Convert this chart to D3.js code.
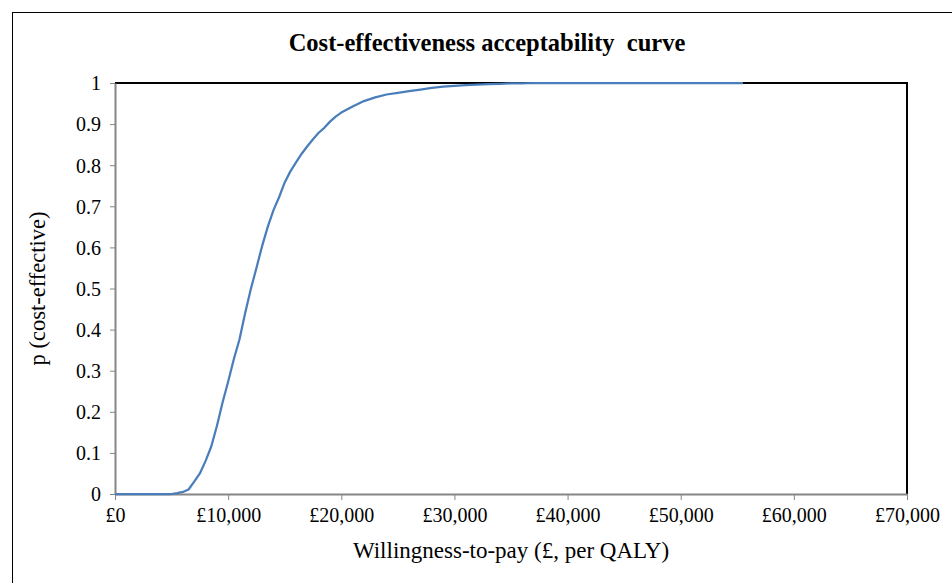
<!DOCTYPE html>
<html>
<head>
<meta charset="utf-8">
<script src="https://cdn.jsdelivr.net/npm/d3@7"></script>
<style>
  body { margin: 0; background: #fff; }
  svg { display: block; font-family: "Liberation Serif", "Times New Roman", serif; }
</style>
</head>
<body>
<div id="container"></div>
<script>
// willingness-to-pay thresholds (GBP per QALY)
const wtp = [0, 1000, 2000, 3000, 4000, 5000, 5500, 6000, 6500, 7000, 7500, 8000, 8500, 9000, 9500,
  10000, 10500, 11000, 11500, 12000, 12500, 13000, 13500, 14000, 14500, 15000, 15500, 16000, 16500,
  17000, 17500, 18000, 18500, 19000, 19500, 20000, 21000, 22000, 23000, 24000, 25000, 26000, 27000,
  28000, 29000, 30000, 31000, 32000, 33000, 34000, 35000, 36000, 37000, 40000, 45000, 50000, 55500];
// probability cost-effective
const pCE = [0, 0, 0, 0, 0, 0, 0.002, 0.005, 0.011, 0.03, 0.05, 0.08, 0.115, 0.165, 0.222,
  0.273, 0.328, 0.376, 0.44, 0.498, 0.55, 0.603, 0.65, 0.69, 0.722, 0.758, 0.785, 0.807, 0.828,
  0.846, 0.863, 0.879, 0.891, 0.906, 0.918, 0.928, 0.943, 0.956, 0.965, 0.972, 0.976, 0.98, 0.984,
  0.988, 0.991, 0.993, 0.995, 0.996, 0.997, 0.998, 0.999, 0.999, 1, 1, 1, 1, 1];

const xTicks = [0, 10000, 20000, 30000, 40000, 50000, 60000, 70000];
const yTicks = [0, 0.1, 0.2, 0.3, 0.4, 0.5, 0.6, 0.7, 0.8, 0.9, 1];

const title = "Cost-effectiveness acceptability\u00a0 curve";
const xTitle = "Willingness-to-pay (£, per QALY)";
const yTitle = "p (cost-effective)";

const W = 952, H = 583;
const pLeft = 115, pRight = 907, pTop = 83, pBottom = 494;

const svg = d3.select("#container").append("svg")
  .attr("width", W)
  .attr("height", H);

svg.append("rect").attr("width", W).attr("height", H).attr("fill", "#fff");

// outer chart border (cropped at right and bottom)
svg.append("rect")
  .attr("x", 12.5).attr("y", 12.5)
  .attr("width", W + 20).attr("height", H + 20)
  .attr("fill", "none").attr("stroke", "#000").attr("stroke-width", 1);

const x = d3.scaleLinear().domain([0, 70000]).range([pLeft, pRight]);
const y = d3.scaleLinear().domain([0, 1]).range([pBottom, pTop]);

// plot area border: black top and right
svg.append("path")
  .attr("d", `M${pLeft},${pTop}H${pRight}V${pBottom}`)
  .attr("fill", "none").attr("stroke", "#000").attr("stroke-width", 2);

const fmt = d => "£" + d3.format(",")(d);

const xAxis = svg.append("g")
  .attr("transform", `translate(0,${pBottom})`)
  .call(d3.axisBottom(x).tickValues(xTicks).tickFormat(fmt).tickSize(6).tickSizeOuter(0));

const yAxis = svg.append("g")
  .attr("transform", `translate(${pLeft},0)`)
  .call(d3.axisLeft(y).tickValues(yTicks).tickFormat(d3.format("~g")).tickSize(5).tickSizeOuter(0));

[xAxis, yAxis].forEach(g => {
  g.select(".domain").attr("stroke", "#868686").attr("stroke-width", 2);
  g.selectAll(".tick line").attr("stroke", "#868686").attr("stroke-width", 1);
  g.selectAll(".tick text")
    .attr("fill", "#000")
    .style("font-family", "Liberation Serif")
    .style("font-size", "20px");
});
xAxis.selectAll(".tick text").attr("y", 14).attr("dy", "0.71em");
yAxis.selectAll(".tick text").attr("x", -14).attr("dy", "0.34em");

// curve
svg.append("path")
  .datum(wtp.map((w, i) => [w, pCE[i]]))
  .attr("fill", "none")
  .attr("stroke", "#4a7ebb")
  .attr("stroke-width", 2.25)
  .attr("stroke-linejoin", "round")
  .attr("d", d3.line().x(d => x(d[0])).y(d => y(d[1])));

svg.append("text")
  .attr("x", 487).attr("y", 51)
  .attr("text-anchor", "middle")
  .style("font-size", "24.5px").style("font-weight", "bold")
  .text(title);

svg.append("text")
  .attr("x", (pLeft + pRight) / 2).attr("y", 558)
  .attr("text-anchor", "middle")
  .style("font-size", "23px")
  .text(xTitle);

svg.append("text")
  .attr("transform", `translate(45,${(pTop + pBottom) / 2}) rotate(-90)`)
  .attr("text-anchor", "middle")
  .style("font-size", "22.5px")
  .text(yTitle);
</script>
</body>
</html>
